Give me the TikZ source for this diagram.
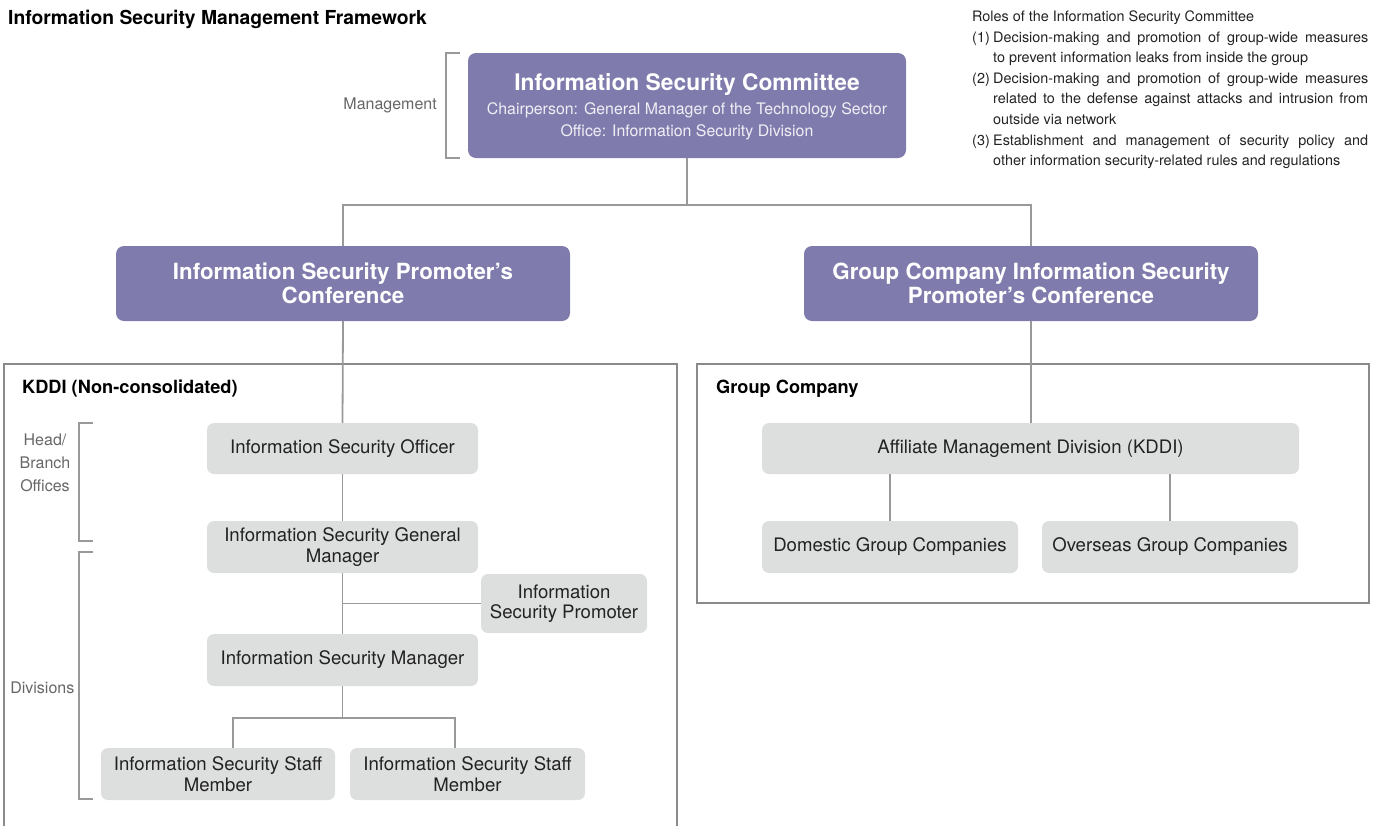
\documentclass[tikz,border=0pt]{standalone}
\usepackage{fontspec}
\setmainfont{TeX Gyre Heros}
\definecolor{pur}{RGB}{127,124,173}
\definecolor{boxgray}{RGB}{221,222,222}
\definecolor{linegray}{RGB}{153,153,153}
\definecolor{framegray}{RGB}{138,138,138}
\definecolor{labgray}{RGB}{102,102,102}
\definecolor{txt}{RGB}{34,34,34}
\tikzset{
  purbox/.style={fill=pur, rounded corners=8pt, text=white, align=center, inner sep=0pt, font=\fontsize{22.3}{24}\bfseries},
  grbox/.style={fill=boxgray, rounded corners=7pt, text=txt, align=center, inner sep=0pt, font=\fontsize{18.6}{20.5}\selectfont},
  conn/.style={draw=linegray, line width=1.8pt},
  frm/.style={draw=framegray, line width=1.3pt},
  brk/.style={draw=linegray, line width=1.8pt},
  sidelab/.style={text=labgray, align=center, inner sep=0pt, font=\fontsize{16}{23}\selectfont},
  head/.style={text=black, anchor=west, inner sep=0pt, font=\fontsize{18.2}{20}\bfseries},
}
\begin{document}
\begin{tikzpicture}[x=1pt,y=-1pt]
\useasboundingbox (0,0) rectangle (1381,825);
% titles
\node[head, font=\fontsize{19.3}{21}\bfseries] (title) at (8,19) {Information Security Management Framework};
% committee
\node[purbox, minimum width=438pt, minimum height=105pt] (com) at (687,105.5) {};
\node[text=white!88!pur, align=center, inner sep=0pt, yshift=-1.5pt, font=\fontsize{15.9}{22}\selectfont] (comtext) at (com.center) {%
  {\fontsize{22.8}{22}\bfseries\color{white}Information Security Committee}\\[2pt]
  Chairperson: General Manager of the Technology Sector\\
  Office: Information Security Division};
\node[sidelab, anchor=east] (mgmt) at (437,105) {Management};
\draw[brk] (460,53) -- (446,53) -- (446,158) -- (460,158);
% roles
\node[anchor=north west, inner sep=0pt, text width=396pt, align=justify, text=txt,
      font=\fontsize{14.4}{20.6}\selectfont] (roles) at (972,10.5) {%
Roles of the Information Security Committee\par
\hangindent=21pt\hangafter=1\noindent\makebox[21pt][l]{(1)}Decision-making and promotion of group-wide measures\linebreak to prevent information leaks from inside the group\par
\hangindent=21pt\hangafter=1\noindent\makebox[21pt][l]{(2)}Decision-making and promotion of group-wide measures\linebreak related to the defense against attacks and intrusion from\linebreak outside via network\par
\hangindent=21pt\hangafter=1\noindent\makebox[21pt][l]{(3)}Establishment and management of security policy and\linebreak other information security-related rules and regulations\par};
% conferences
\node[purbox, minimum width=454pt, minimum height=75pt] (confL) at (343,283.5) {Information Security Promoter’s\\Conference};
\node[purbox, minimum width=454pt, minimum height=75pt] (confR) at (1031,283.5) {Group Company Information Security\\Promoter’s Conference};
\draw[conn] (com.south) -- (687,205);
\draw[conn] (confL.north) -- (343,205) -- (1031,205) -- (confR.north);
% frames
\draw[frm] (4,830) -- (4,364) -- (677,364) -- (677,830);
\draw[frm] (697,364) rectangle (1369,603);
\node[head] (kddi) at (22,389) {KDDI (Non-consolidated)};
\node[head] (grp) at (716,389) {Group Company};
% KDDI boxes
\node[grbox, minimum width=271pt, minimum height=51pt] (off) at (342.5,448.5) {Information Security Officer};
\node[grbox, minimum width=271pt, minimum height=52pt] (gm) at (342.5,547) {Information Security General\\Manager};
\node[grbox, minimum width=166pt, minimum height=59pt] (prom) at (564,603.5) {Information\\Security Promoter};
\node[grbox, minimum width=271pt, minimum height=52pt] (mgr) at (342.5,660) {Information Security Manager};
\node[grbox, minimum width=234pt, minimum height=52pt] (st1) at (218,774) {Information Security Staff\\Member};
\node[grbox, minimum width=235pt, minimum height=52pt] (st2) at (467.5,774) {Information Security Staff\\Member};
\draw[conn] (confL.south) -- (off.north);
\draw[conn] (off.south) -- (gm.north);
\draw[conn] (gm.south) -- (mgr.north);
\draw[conn] (gm.south |- prom.west) -- (prom.west);
\coordinate (s1) at (233,718);
\coordinate (s2) at (455,718);
\draw[conn] (mgr.south) -- (mgr.south |- s1);
\draw[conn] (st1.north -| s1) -- (s1) -- (s2) -- (st2.north -| s2);
% side brackets
\draw[brk] (93,423) -- (79,423) -- (79,541) -- (93,541);
\draw[brk] (93,552) -- (79,552) -- (79,799) -- (93,799);
\node[sidelab] (hb) at (45,463) {Head/\\Branch\\Offices};
\node[sidelab, anchor=east] (div) at (74.5,688) {Divisions};
% group boxes
\node[grbox, minimum width=537pt, minimum height=51pt] (aff) at (1030.5,448.5) {Affiliate Management Division (KDDI)};
\node[grbox, minimum width=256pt, minimum height=52pt] (dom) at (890,547) {Domestic Group Companies};
\node[grbox, minimum width=256pt, minimum height=52pt] (ovs) at (1170,547) {Overseas Group Companies};
\draw[conn] (confR.south) -- (aff.north -| confR.south);
\draw[conn] (aff.south -| dom.north) -- (dom.north);
\draw[conn] (aff.south -| ovs.north) -- (ovs.north);
\end{tikzpicture}
\end{document}
